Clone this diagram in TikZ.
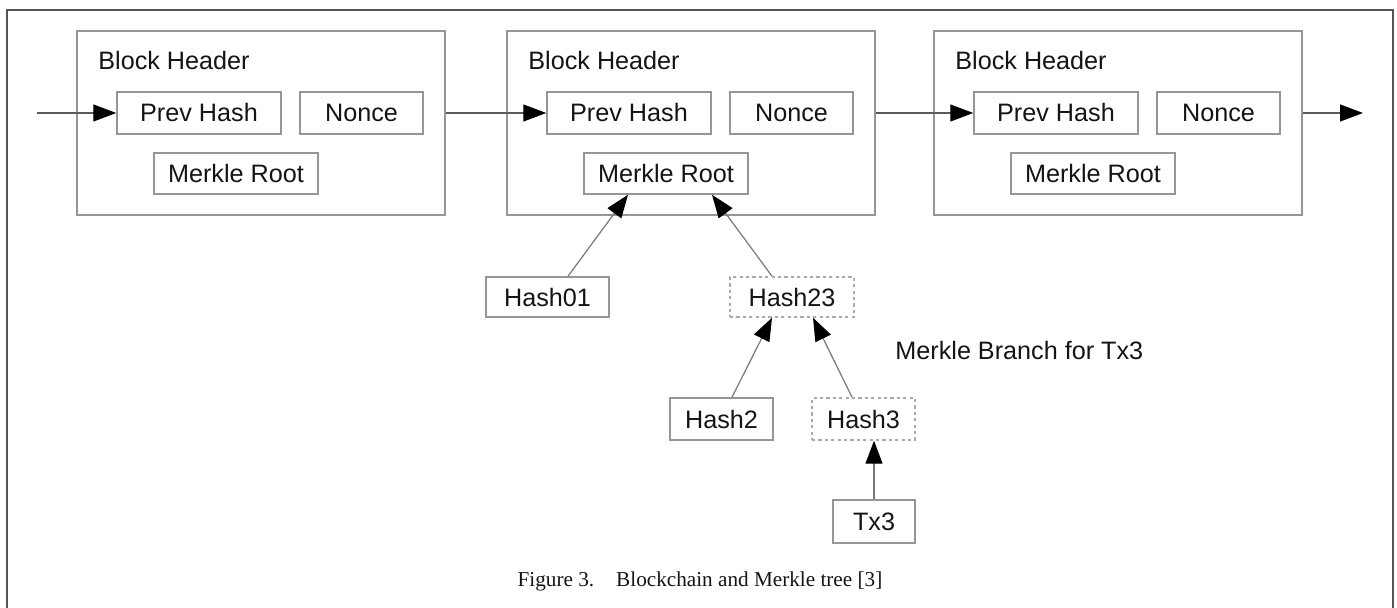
\documentclass[tikz,border=0pt]{standalone}
\usepackage{fontspec}
\setmainfont{Liberation Sans}
\newfontfamily\capfont{Liberation Serif}
\usetikzlibrary{arrows.meta}
\definecolor{framegray}{RGB}{85,85,85}
\definecolor{boxgray}{RGB}{150,150,150}
\definecolor{dashgray}{RGB}{170,170,170}
\definecolor{linkgray}{RGB}{120,120,120}
\definecolor{chaingray}{RGB}{90,90,90}
\definecolor{ink}{RGB}{20,20,20}

\begin{document}
\begin{tikzpicture}[x=0.5pt,y=-0.5pt,
  every node/.style={font=\fontsize{12.6}{15}\selectfont, text=ink, inner sep=0pt},
  block/.style={draw=boxgray, line width=0.75pt, minimum width=184pt, minimum height=92pt},
  field/.style={draw=boxgray, line width=0.75pt, minimum height=21pt},
  branch/.style={draw=dashgray, line width=0.75pt, dash pattern=on 1.6pt off 1.6pt, minimum height=21pt},
  tip/.style={-{Triangle[length=11.5pt,width=8.5pt,color=black]}},
  chain/.style={tip, draw=chaingray, line width=0.6pt},
  link/.style={tip, draw=linkgray, line width=0.6pt},
]
\useasboundingbox (0,0) rectangle (1397,608);

% outer frame, open at the bottom
\draw[framegray, line width=1pt] (7,608) -- (7,10) -- (1393,10) -- (1393,608);

% the three block headers
\foreach \x/\i in {77/1,507/2,934/3}{
  \node[block] (b\i) at (\x+184,123) {};
  \node[anchor=base west] (t\i) at (\x+21,70) {Block Header};
  \node[field, minimum width=82pt] (p\i) at (\x+40+82,113) {Prev Hash};
  \node[field, minimum width=61.5pt] (n\i) at (\x+223+61.5,113) {Nonce};
  \node[field, minimum width=82pt, minimum height=20.5pt] (m\i) at (\x+77+82,173.5) {Merkle Root};
}

% chain links between blocks
\coordinate (in) at (37,113);
\coordinate (out) at (1363,113);
\draw[chain] (in) -- (p1.west);
\draw[chain] (p2.west -| b1.east) -- (p2.west);
\draw[chain] (p3.west -| b2.east) -- (p3.west);
\draw[chain] (p3.east -| b3.east) -- (out);

% Merkle tree below the middle block
\node[field, minimum width=61.5pt, minimum height=20pt] (h01) at (547.5,297) {Hash01};
\node[branch, minimum width=62pt, minimum height=20pt] (h23) at (792,297) {Hash23};
\node[field, minimum width=51.5pt] (h2) at (721.5,419) {Hash2};
\node[branch, minimum width=51.5pt] (h3) at (863.5,419) {Hash3};
\node[field, minimum width=41pt, minimum height=21.5pt] (tx3) at (874,521.5) {Tx3};
\node[anchor=base west] (lbl) at (895,360) {Merkle Branch for Tx3};

\draw[link] ([xshift=10.25pt]h01.north) -- ([xshift=-19pt]m2.south);
\draw[link] ([xshift=-10pt]h23.north) -- ([xshift=23pt]m2.south);
\draw[link] ([xshift=5.25pt]h2.north) -- ([xshift=-10pt]h23.south);
\draw[link] ([xshift=-5.75pt]h3.north) -- ([xshift=10.5pt]h23.south);
\draw[link] (tx3.north) -- (tx3.north |- h3.south);

% caption
\node[anchor=base, font=\capfont\fontsize{10.6}{13}\selectfont] (cap) at (700,587)
  {Figure 3.\hspace{11pt}Blockchain and Merkle tree [3]};
\end{tikzpicture}
\end{document}
